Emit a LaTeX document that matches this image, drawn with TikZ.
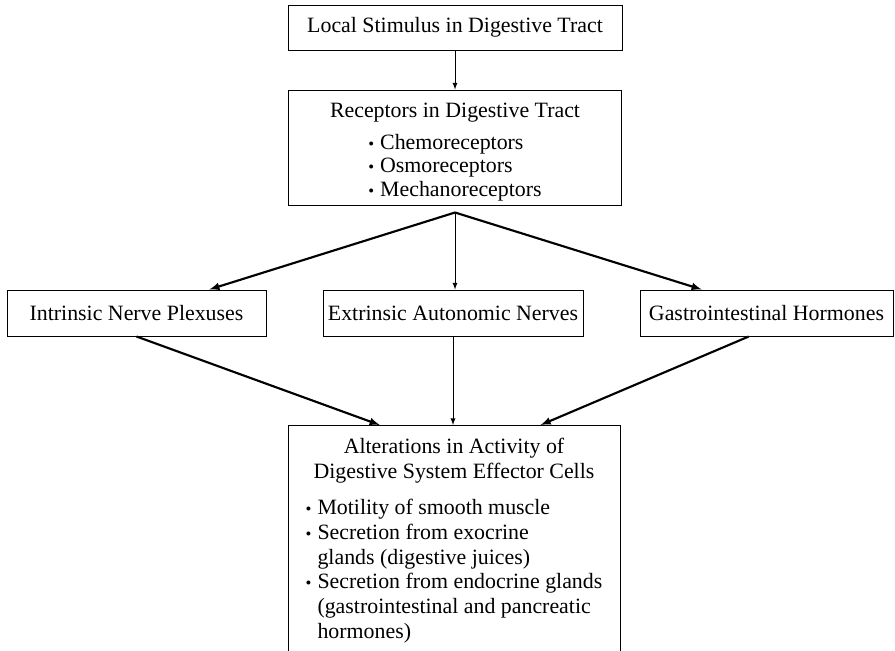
\documentclass[tikz,border=0pt]{standalone}
\usepackage{fontspec}
\setmainfont{Liberation Serif}
\usetikzlibrary{calc}

\newcommand{\gutdot}{{\fontsize{12.5}{12.5}\selectfont\textbullet}\hspace{4.5pt}}

\tikzset{
  box/.style={rectangle, draw=black, line width=0.75pt, font=\fontsize{16.4}{17.6}\selectfont},
  link/.style={-latex, line width=0.75pt},
  fanlink/.style={-latex, line width=1.6pt},
}

\begin{document}
\begin{tikzpicture}[x=0.75pt, y=-0.75pt]
\useasboundingbox (0,0) rectangle (895,650);

\node[box, minimum width=250.5pt, minimum height=33.75pt] (stim) at (455,27.5) {Local Stimulus in Digestive Tract};
\node[box, minimum width=249.75pt, minimum height=86.25pt, align=center, inner ysep=1pt] (recep) at (455,147.5)
  {\rule{0pt}{19pt}Receptors in Digestive Tract\\[6.4pt]
   \begin{tabular}[t]{@{}l@{}}
   \gutdot Chemoreceptors\\
   \gutdot Osmoreceptors\\
   \gutdot Mechanoreceptors
   \end{tabular}};

\node[box, minimum width=194.25pt, minimum height=34.5pt] (intr) at (136.5,313) {Intrinsic Nerve Plexuses};
\node[box, minimum width=195pt, minimum height=34.5pt] (extr) at (453,313) {Extrinsic Autonomic Nerves};
\node[box, minimum width=189.75pt, minimum height=34.5pt] (horm) at (766.5,313) {Gastrointestinal Hormones};

\node[box, minimum width=249pt, anchor=north, align=center, inner xsep=6pt, inner ysep=9.5pt,
      font=\fontsize{16.4}{18.5}\selectfont] (effect) at (454,425)
  {Alterations in Activity of\\
   Digestive System Effector Cells\\[9pt]
   \begin{tabular}[t]{@{}l@{}}
   \gutdot Motility of smooth muscle\\
   \gutdot Secretion from exocrine\\
   \phantom{\gutdot}glands (digestive juices)\\
   \gutdot Secretion from endocrine glands\\
   \phantom{\gutdot}(gastrointestinal and pancreatic\\
   \phantom{\gutdot}hormones)
   \end{tabular}};

% fan out below the receptors
\coordinate (fan) at ($(recep.south)+(0,7)$);

\draw[link] (stim) -- (recep);
\draw[fanlink] (fan) -- ($(intr.north west)!0.78!(intr.north east)$);
\draw[link] (fan) -- (extr.north -| fan);
\draw[fanlink] (fan) -- ($(horm.north west)!0.245!(horm.north east)$);

\draw[fanlink] (intr.south) -- ($(effect.north west)!0.277!(effect.north east)$);
\draw[link] (extr) -- (effect.north -| extr);
\draw[fanlink] ($(horm.south west)!0.43!(horm.south east)$) -- ($(effect.north west)!0.76!(effect.north east)$);
\end{tikzpicture}
\end{document}
